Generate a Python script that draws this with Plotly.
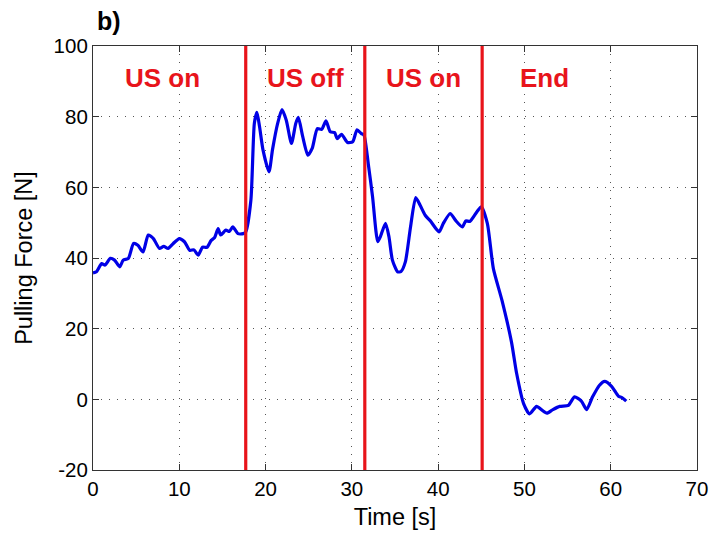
import plotly.graph_objects as go

time_s = [0.0, 0.4, 1.0, 1.4, 2.0, 2.5, 3.1, 3.5, 4.1, 4.7, 5.2, 5.8, 6.4, 7.0, 7.7, 8.2, 8.7, 9.3,
          10.0, 10.6, 11.2, 11.7, 12.2, 12.7, 13.2, 13.7, 14.1, 14.5, 14.8, 15.4, 15.8, 16.2, 16.8,
          17.4, 17.7, 18.3, 18.7, 19.0, 19.3, 19.7, 20.4, 20.8, 21.4, 21.9, 22.4, 23.0, 23.5, 23.8,
          24.3, 24.9, 25.4, 26.0, 26.5, 27.0, 27.5, 28.0, 28.3, 28.8, 29.5, 30.1, 30.6, 31.1, 31.4,
          31.9, 32.4, 33.0, 33.3, 33.9, 34.3, 34.7, 35.3, 35.7, 36.2, 36.8, 37.4, 37.9, 38.5, 39.1,
          40.1, 40.6, 41.4, 42.0, 42.8, 43.2, 43.7, 44.5, 45.0, 45.7, 46.4, 47.4, 48.5, 49.1, 49.9,
          50.6, 51.4, 52.0, 52.6, 53.3, 54.1, 55.1, 55.8, 56.6, 57.2, 57.9, 58.7, 59.3, 60.1, 60.9,
          61.3, 61.8]
force_n = [35.8, 36.1, 38.4, 38.0, 39.9, 39.4, 37.5, 39.4, 39.9, 44.1, 43.6, 41.7, 46.5, 45.5, 42.7,
           43.3, 42.7, 44.1, 45.5, 44.6, 42.2, 42.3, 40.8, 43.1, 43.0, 45.0, 45.8, 48.3, 46.5, 47.9,
           47.5, 48.8, 46.9, 46.9, 47.4, 56.4, 78.1, 81.2, 77.2, 70.6, 64.4, 70.6, 78.1, 82.0, 79.0,
           72.4, 78.1, 79.8, 74.4, 69.1, 71.0, 76.6, 76.4, 78.8, 75.7, 75.5, 73.8, 75.0, 72.7, 72.9,
           76.3, 75.2, 74.8, 66.7, 57.3, 44.6, 46.0, 49.8, 46.0, 39.4, 36.1, 36.2, 38.9, 48.8, 57.1,
           55.0, 52.1, 50.5, 47.4, 49.8, 52.6, 50.7, 48.8, 50.5, 50.4, 53.1, 54.5, 49.8, 37.0, 28.0,
           16.2, 7.3, -1.2, -4.1, -2.0, -3.0, -3.9, -2.9, -2.0, -1.7, 0.7, -0.5, -2.9, 0.7, 4.0, 5.1,
           3.7, 0.9, 0.5, -0.5]

phase_boundaries = [17.7, 31.5, 45.1]
phase_labels = ["US on", "US off", "US on", "End"]
phase_label_x = [8.1, 24.6, 38.3, 52.3]
phase_label_y = 91

x_ticks = [0, 10, 20, 30, 40, 50, 60, 70]
x_tick_text = ["0", "10", "20", "30", "40", "50", "60", "70"]
y_ticks = [-20, 0, 20, 40, 60, 80, 100]
y_tick_text = ["-20", "0", "20", "40", "60", "80", "100"]

FONT = "Liberation Sans, Arial, Helvetica, sans-serif"

fig = go.Figure()
fig.add_trace(go.Scatter(x=time_s, y=force_n, mode="lines",
                         line=dict(color="#0000e6", width=3.2, shape="spline", smoothing=0.6),
                         showlegend=False, hoverinfo="skip"))

for xb in phase_boundaries:
    fig.add_shape(type="line", x0=xb, x1=xb, y0=0, y1=1, xref="x", yref="paper",
                  line=dict(color="#e8141b", width=3.2), layer="above")

for lx, lt in zip(phase_label_x, phase_labels):
    fig.add_annotation(x=lx, y=phase_label_y, text="<b>" + lt + "</b>", showarrow=False,
                       font=dict(family=FONT, size=26, color="#e8141b"), xref="x", yref="y")

fig.add_annotation(x=0.003, y=1.022, xref="paper", yref="paper", xanchor="left", yanchor="bottom",
                   text="<b>b)</b>", showarrow=False,
                   font=dict(family=FONT, size=25, color="black"))

axis_common = dict(showline=True, linecolor="#333333", linewidth=1.2, mirror="ticks",
                   ticks="inside", ticklen=6, tickcolor="#333333",
                   showgrid=True, gridcolor="#555555", gridwidth=1, griddash="1px,7px",
                   zeroline=False, tickfont=dict(family=FONT, size=20.5, color="black"),
                   title_font=dict(family=FONT, size=23.5, color="black"))

fig.update_xaxes(range=[0, 70], tickvals=x_ticks, ticktext=x_tick_text, title_text="Time [s]",
                 title_standoff=9, **axis_common)
fig.update_yaxes(range=[-20, 100], tickvals=y_ticks, ticktext=y_tick_text,
                 title_text="Pulling Force [N]", title_standoff=14, **axis_common)

fig.update_layout(width=720, height=539, margin=dict(l=93, r=20, t=46, b=69),
                  plot_bgcolor="white", paper_bgcolor="white")

fig.write_html("out.html")
